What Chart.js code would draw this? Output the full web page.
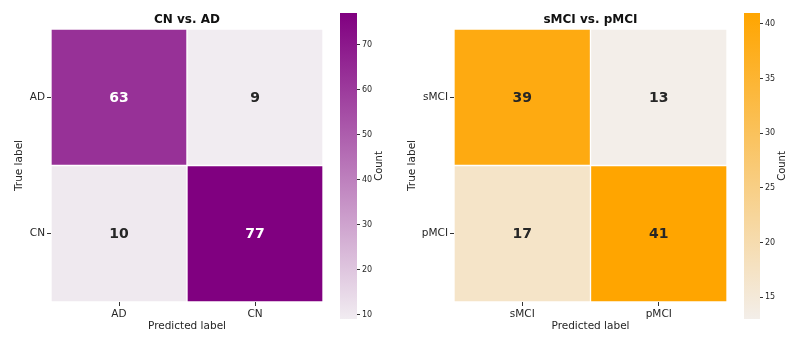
<!DOCTYPE html>
<html>
<head>
<meta charset="utf-8">
<script src="https://cdn.jsdelivr.net/npm/chart.js@4.4.1/dist/chart.umd.min.js"></script>
<style>
  body { margin: 0; background: #fff; }
  #wrap { position: relative; width: 801px; height: 343px; }
  canvas { position: absolute; top: 0; }
</style>
</head>
<body>
<div id="wrap">
  <canvas id="hm1" width="335" height="343" style="left:0px"></canvas>
  <canvas id="cb1" width="70" height="343" style="left:330px"></canvas>
  <canvas id="hm2" width="339" height="343" style="left:400px"></canvas>
  <canvas id="cb2" width="65" height="343" style="left:736px"></canvas>
</div>
<script>
// data
const adLabels = ['AD', 'CN'];
const adCounts = [[63, 9], [10, 77]];   // rows = true label, cols = predicted
const adCbarTicks = [10, 20, 30, 40, 50, 60, 70];

const mciLabels = ['sMCI', 'pMCI'];
const mciCounts = [[39, 13], [17, 41]];
const mciCbarTicks = [15, 20, 25, 30, 35, 40];

const FONT = "'DejaVu Sans', sans-serif";
const TEXT = '#262626';

Chart.defaults.font.family = FONT;
Chart.defaults.color = TEXT;

function hexToRgb(h) {
  return [1, 3, 5].map(i => parseInt(h.substr(i, 2), 16));
}

function mix(lo, hi, t) {
  const a = hexToRgb(lo), b = hexToRgb(hi);
  return a.map((v, i) => Math.round(v + (b[i] - v) * t));
}

function luminance(rgb) {
  const lin = rgb.map(v => {
    v = v / 255;
    return v <= 0.03928 ? v / 12.92 : Math.pow((v + 0.055) / 1.055, 2.4);
  });
  return 0.2126 * lin[0] + 0.7152 * lin[1] + 0.0722 * lin[2];
}

const cellText = {
  id: 'cellText',
  afterDatasetsDraw(chart) {
    const o = chart.options.plugins.cellText;
    const ctx = chart.ctx;
    ctx.save();
    ctx.font = 'bold 14px ' + FONT;
    ctx.textAlign = 'center';
    ctx.textBaseline = 'middle';
    chart.data.datasets.forEach((ds, r) => {
      chart.getDatasetMeta(r).data.forEach((bar, c) => {
        const p = bar.getProps(['x', 'y', 'base'], true);
        const rgb = o.colors[r][c];
        ctx.fillStyle = luminance(rgb) > 0.408 ? TEXT : '#ffffff';
        ctx.fillText(String(o.counts[r][c]), p.x, (p.y + p.base) / 2 + 1);
      });
    });
    ctx.restore();
  }
};

const panelTitle = {
  id: 'panelTitle',
  afterDraw(chart) {
    const o = chart.options.plugins.panelTitle;
    const a = chart.chartArea;
    const ctx = chart.ctx;
    ctx.save();
    ctx.font = 'bold 12px ' + FONT;
    ctx.fillStyle = '#111';
    ctx.textAlign = 'center';
    ctx.textBaseline = 'middle';
    ctx.fillText(o.text, (a.left + a.right) / 2, a.top - 9);
    ctx.restore();
  }
};

const cbarLabel = {
  id: 'cbarLabel',
  afterDraw(chart) {
    const a = chart.chartArea;
    const ctx = chart.ctx;
    ctx.save();
    ctx.font = '10px ' + FONT;
    ctx.fillStyle = TEXT;
    ctx.textAlign = 'center';
    ctx.textBaseline = 'middle';
    ctx.translate(a.right + 22, (a.top + a.bottom) / 2);
    ctx.rotate(-Math.PI / 2);
    ctx.fillText('Count', 0, 0);
    ctx.restore();
  }
};

function drawHeatmap(id, title, labels, counts, lo, hi, padLeft, axisWidth) {
  const flat = counts.flat();
  const vmin = Math.min(...flat), vmax = Math.max(...flat);
  const colors = counts.map(row => row.map(v => mix(lo, hi, (v - vmin) / (vmax - vmin))));

  const datasets = counts.map((row, r) => ({
    data: row.map(() => [r - 0.5, r + 0.5]),
    backgroundColor: colors[r].map(c => `rgb(${c.join(',')})`),
    borderColor: '#ffffff',
    borderWidth: 1,
    borderSkipped: false,
    grouped: false,
    barPercentage: 1,
    categoryPercentage: 1
  }));

  new Chart(document.getElementById(id), {
    type: 'bar',
    data: { labels: labels, datasets: datasets },
    options: {
      responsive: false,
      animation: false,
      devicePixelRatio: 1,
      layout: { padding: { left: padLeft, right: 12, top: 29, bottom: 6 } },
      plugins: {
        legend: { display: false },
        tooltip: { enabled: false },
        cellText: { counts: counts, colors: colors },
        panelTitle: { text: title }
      },
      scales: {
        x: {
          type: 'category',
          grid: { drawOnChartArea: false, offset: false, tickLength: 4, color: '#333' },
          border: { display: false },
          ticks: { font: { size: 10.5 }, padding: 2 },
          title: { display: true, text: 'Predicted label', font: { size: 10.5 }, padding: { top: 2, bottom: 4 } },
          afterFit: axis => { axis.height = 35; }
        },
        y: {
          type: 'linear',
          min: -0.5,
          max: 1.5,
          reverse: true,
          afterBuildTicks: axis => { axis.ticks = labels.map((l, i) => ({ value: i })); },
          grid: { drawOnChartArea: false, tickLength: 4, color: '#333' },
          border: { display: false },
          ticks: { font: { size: 10.5 }, padding: 2, callback: v => labels[v] },
          title: { display: true, text: 'True label', font: { size: 10.5 }, padding: { top: 4, bottom: 4 } },
          afterFit: axis => { axis.width = axisWidth; }
        }
      }
    },
    plugins: [cellText, panelTitle]
  });

  return { vmin, vmax };
}

function drawColorbar(id, range, ticks, lo, hi, padLeft, axisWidth) {
  new Chart(document.getElementById(id), {
    type: 'bar',
    data: {
      labels: [''],
      datasets: [{
        data: [[range.vmin, range.vmax]],
        backgroundColor: ctx => {
          const a = ctx.chart.chartArea;
          if (!a) return lo;
          const g = ctx.chart.ctx.createLinearGradient(0, a.bottom, 0, a.top);
          g.addColorStop(0, lo);
          g.addColorStop(1, hi);
          return g;
        },
        borderWidth: 0,
        barPercentage: 1,
        categoryPercentage: 1
      }]
    },
    options: {
      responsive: false,
      animation: false,
      devicePixelRatio: 1,
      layout: { padding: { left: padLeft, right: 0, top: 13, bottom: 24 } },
      plugins: { legend: { display: false }, tooltip: { enabled: false } },
      scales: {
        x: { display: false },
        y: {
          position: 'right',
          min: range.vmin,
          max: range.vmax,
          afterBuildTicks: axis => { axis.ticks = ticks.map(v => ({ value: v })); },
          grid: { drawOnChartArea: false, tickLength: 3, color: '#333' },
          border: { display: false },
          ticks: { font: { size: 8 }, padding: 2 },
          afterFit: axis => { axis.width = axisWidth; }
        }
      }
    },
    plugins: [cbarLabel]
  });
}

const purpleLo = '#f1ecf1', purpleHi = '#800080';
const orangeLo = '#f3eee9', orangeHi = '#ffa500';

const r1 = drawHeatmap('hm1', 'CN vs. AD', adLabels, adCounts, purpleLo, purpleHi, 9, 42);
drawColorbar('cb1', r1, adCbarTicks, purpleLo, purpleHi, 10, 43);

const r2 = drawHeatmap('hm2', 'sMCI vs. pMCI', mciLabels, mciCounts, orangeLo, orangeHi, 2, 52);
drawColorbar('cb2', r2, mciCbarTicks, orangeLo, orangeHi, 8, 41);
</script>
</body>
</html>
